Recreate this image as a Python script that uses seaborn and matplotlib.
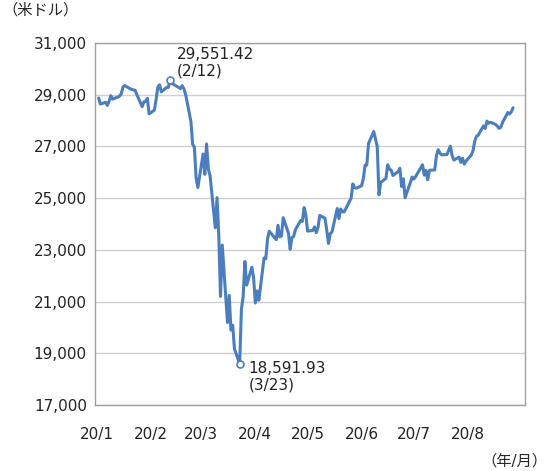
import pandas as pd
import numpy as np
import seaborn as sns
import matplotlib.pyplot as plt

sns.set_style("white")
plt.rcParams['font.family'] = ['DejaVu Sans', 'Noto Sans CJK JP']

# ダウ平均の終値（2020年1月〜8月、チャートから読み取り）
dates = pd.to_datetime([
    '2020-01-02','2020-01-03','2020-01-06','2020-01-07','2020-01-08','2020-01-09','2020-01-10','2020-01-13','2020-01-14','2020-01-15','2020-01-16','2020-01-17','2020-01-21','2020-01-22','2020-01-23','2020-01-24','2020-01-27','2020-01-28','2020-01-29','2020-01-30','2020-01-31',
    '2020-02-03','2020-02-04','2020-02-05','2020-02-06','2020-02-07','2020-02-10','2020-02-11','2020-02-12','2020-02-13','2020-02-14','2020-02-18','2020-02-19','2020-02-20','2020-02-21','2020-02-24','2020-02-25','2020-02-26','2020-02-27','2020-02-28',
    '2020-03-02','2020-03-03','2020-03-04','2020-03-05','2020-03-06','2020-03-09','2020-03-10','2020-03-11','2020-03-12','2020-03-13','2020-03-16','2020-03-17','2020-03-18','2020-03-19','2020-03-20','2020-03-23','2020-03-24','2020-03-25','2020-03-26','2020-03-27','2020-03-30','2020-03-31',
    '2020-04-01','2020-04-02','2020-04-03','2020-04-06','2020-04-07','2020-04-08','2020-04-09','2020-04-13','2020-04-14','2020-04-15','2020-04-16','2020-04-17','2020-04-20','2020-04-21','2020-04-22','2020-04-23','2020-04-24','2020-04-27','2020-04-28','2020-04-29','2020-04-30',
    '2020-05-01','2020-05-04','2020-05-05','2020-05-06','2020-05-07','2020-05-08','2020-05-11','2020-05-12','2020-05-13','2020-05-14','2020-05-15','2020-05-18','2020-05-19','2020-05-20','2020-05-21','2020-05-22','2020-05-26','2020-05-27','2020-05-28','2020-05-29',
    '2020-06-01','2020-06-02','2020-06-03','2020-06-04','2020-06-05','2020-06-08','2020-06-09','2020-06-10','2020-06-11','2020-06-12','2020-06-15','2020-06-16','2020-06-17','2020-06-18','2020-06-19','2020-06-22','2020-06-23','2020-06-24','2020-06-25','2020-06-26','2020-06-29','2020-06-30',
    '2020-07-01','2020-07-02','2020-07-06','2020-07-07','2020-07-08','2020-07-09','2020-07-10','2020-07-13','2020-07-14','2020-07-15','2020-07-16','2020-07-17','2020-07-20','2020-07-21','2020-07-22','2020-07-23','2020-07-24','2020-07-27','2020-07-28','2020-07-29','2020-07-30','2020-07-31',
    '2020-08-03','2020-08-04','2020-08-05','2020-08-06','2020-08-07','2020-08-10','2020-08-11','2020-08-12','2020-08-13','2020-08-14','2020-08-17','2020-08-18','2020-08-19','2020-08-20','2020-08-21','2020-08-24','2020-08-25','2020-08-26','2020-08-27',
])
closes = [
    28868,28634,28703,28583,28745,28956,28824,28907,28940,29030,29298,29348,29196,29186,29160,28990,28535,28723,28734,28859,28256,
    28400,28808,29291,29380,29103,29276,29276,29551.42,29423,29398,29232,29348,29219,28992,27961,27081,26957,25766,25409,
    26703,25917,27091,26121,25865,23851,25018,23553,21200,23185,20189,21237,19899,20087,19174,18591.93,20705,21201,22552,21637,22327,21917,
    20944,21413,21053,22680,22654,23434,23719,23390,23950,23505,23538,24242,23650,23019,23475,23515,23775,24134,24101,24634,24346,
    23724,23750,23883,23664,23875,24331,24221,23764,23248,23625,23685,24597,24206,24576,24474,24465,24995,25548,25401,25383,
    25475,25742,26270,26282,27111,27572,27273,26990,25128,25606,25763,26290,26120,26080,25871,26025,26156,25446,25745,25016,25596,25813,
    25735,25827,26287,25890,26067,25706,26075,26086,26643,26870,26735,26672,26681,26840,27006,26652,26470,26585,26379,26540,26314,26428,
    26664,26828,27202,27387,27433,27791,27687,27977,27897,27931,27845,27778,27693,27740,27931,28308,28249,28332,28493,
]
df = pd.DataFrame({'date': dates, 'close': closes})

fig = plt.figure(figsize=(5.5, 4.71), dpi=100)
ax = fig.add_axes([0.173, 0.140, 0.782, 0.769])
sns.lineplot(data=df, x='date', y='close', ax=ax, color='#4a7ebf', linewidth=2.2)

# 高値・安値の印
hi = df.loc[df['close'].idxmax()]
lo = df.loc[df['close'].idxmin()]
for row in (hi, lo):
    ax.plot(row['date'], row['close'], 'o', mfc='white', mec='#4a7ebf', ms=5, mew=1.2, zorder=5)
ax.text(hi['date'] + pd.Timedelta(days=4), hi['close'] + 80, '29,551.42\n(2/12)',
        fontsize=11, va='bottom', ha='left', linespacing=1.1, color='#222222')
ax.text(lo['date'] + pd.Timedelta(days=5), lo['close'] - 500, '18,591.93\n(3/23)',
        fontsize=11, va='center', ha='left', linespacing=1.1, color='#222222')

ax.set_ylim(17000, 31000)
ax.set_yticks(range(17000, 31001, 2000))
ax.yaxis.set_major_formatter(plt.FuncFormatter(lambda v, p: f'{int(v):,}'))
ax.set_xlim(pd.Timestamp('2019-12-31'), pd.Timestamp('2020-09-03'))
months = pd.date_range('2020-01-01', '2020-08-01', freq='MS')
ax.set_xticks(months)
ax.set_xticklabels([f'20/{m.month}' for m in months])
ax.grid(axis='y', color='#d0d0d0', linewidth=1)
ax.tick_params(labelsize=11, length=0, colors='#222222')
ax.tick_params(axis='x', pad=16)
ax.tick_params(axis='y', pad=6)
for s in ax.spines.values():
    s.set_color('#a0a0a0')
    s.set_linewidth(1)
ax.set_xlabel('')
ax.set_ylabel('')
fig.text(0.005, 0.995, '（米ドル）', fontsize=11, va='top', ha='left')
fig.text(0.995, 0.005, '（年/月）', fontsize=11, va='bottom', ha='right')

fig.savefig('out.png', dpi=100)
